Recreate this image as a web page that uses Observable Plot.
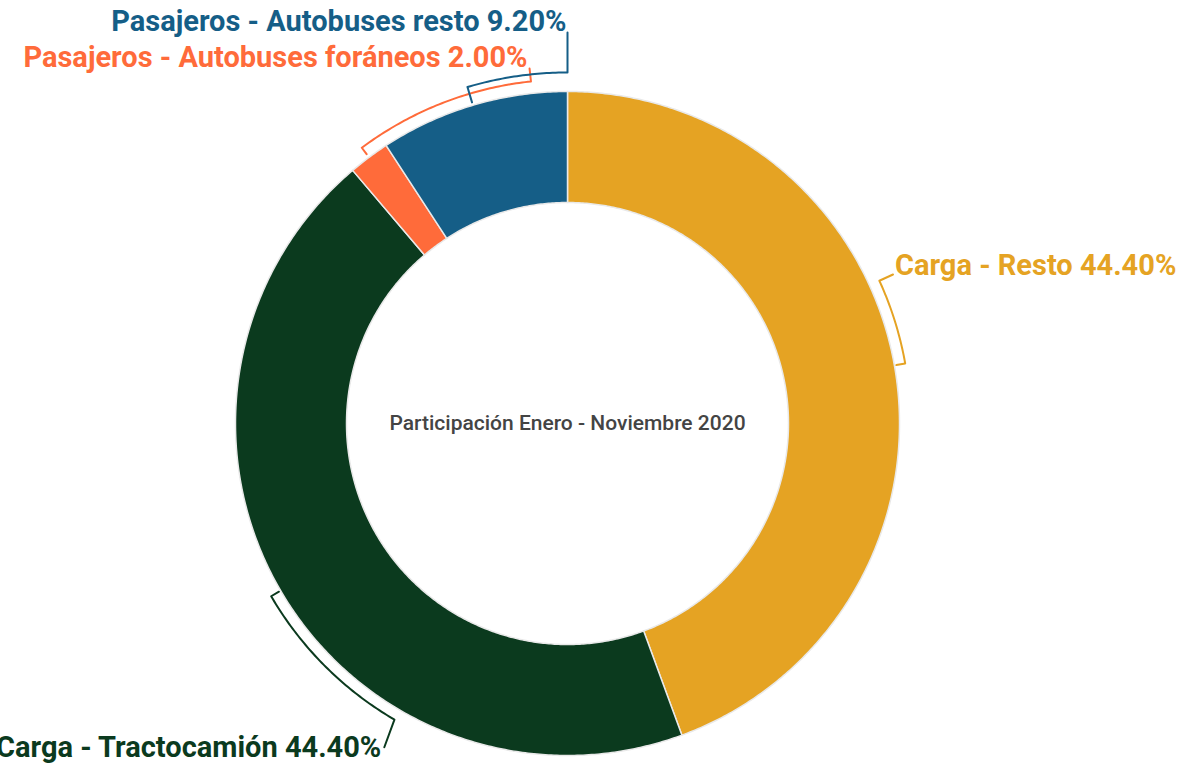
<!DOCTYPE html>
<html><head><meta charset="utf-8">
<script src="https://cdn.jsdelivr.net/npm/d3@7"></script>
<script src="https://cdn.jsdelivr.net/npm/@observablehq/plot@0.6"></script>
<style>body{margin:0;background:#fff;overflow:hidden}</style>
</head><body><div id="chart"></div>
<script>
// ---- data ----
const categories = ["Carga - Resto", "Carga - Tractocamión", "Pasajeros - Autobuses foráneos", "Pasajeros - Autobuses resto"];
const shares = [44.4, 44.4, 2.0, 9.2];
const colors = ["#E5A323", "#0B3A1E", "#FF6B3A", "#155E87"];
const centerTitle = "Participación Enero - Noviembre 2020";

// ---- layout ----
const W = 1184, H = 765, CX = 567, CY = 423, R_OUT = 332, R_IN = 221;
const labelLayout = [
  {arcR: 343, tickR: 334, endDeg: 65.4, tipR: 358, tipDeg: 65.4, anchor: "start", off: [2, 1]},
  {arcR: 343, tickR: 334, endDeg: 210.3, tipR: 372, tipDeg: 209.5, anchor: "end", off: [-3, 10]},
  {arcR: 344, tickR: 336, endDeg: 353.9, tipR: 357, tipDeg: 353.9, anchor: "end", off: [-2, -2]},
  {arcR: 351, tickR: 335, endDeg: 360, tipR: 391, tipDeg: 360, anchor: "end", off: [-1, -2]}
];

const rad = d => d * Math.PI / 180;
const pt = (r, a) => ({x: r * Math.sin(a), y: -r * Math.cos(a)});

const table = categories.map((name, i) => ({name, value: shares[i]}));
const arcs = d3.pie().sort(null).value(d => d.value)(table);

function arcPoints(r, a0, a1) {
  const n = Math.max(2, Math.ceil(Math.abs(a1 - a0) / rad(0.5)));
  const out = [];
  for (let k = 0; k <= n; k++) out.push(pt(r, a0 + (a1 - a0) * k / n));
  return out;
}

const slicePts = arcs.flatMap(a => {
  const outer = arcPoints(R_OUT, a.startAngle, a.endAngle);
  const inner = arcPoints(R_IN, a.endAngle, a.startAngle);
  const poly = [...outer, ...inner, outer[0]];
  return poly.map(p => ({...p, name: a.data.name}));
});

const bracketPts = [];
const labels = [];
arcs.forEach((a, i) => {
  const L = labelLayout[i];
  const mid = (a.startAngle + a.endAngle) / 2;
  const pts = [pt(L.tickR, mid), ...arcPoints(L.arcR, mid, rad(L.endDeg)), pt(L.tipR, rad(L.tipDeg))];
  pts.forEach(p => bracketPts.push({...p, name: a.data.name}));
  const tip = pt(L.tipR, rad(L.tipDeg));
  labels.push({
    name: a.data.name,
    text: `${a.data.name} ${a.data.value.toFixed(2)}%`,
    x: tip.x + L.off[0], y: tip.y + L.off[1], anchor: L.anchor
  });
});

const chart = Plot.plot({
  width: W, height: H, margin: 0,
  style: {fontFamily: "Roboto, sans-serif", background: "#fff"},
  x: {domain: [-CX, W - CX], range: [0, W], axis: null},
  y: {domain: [-CY, H - CY], range: [0, H], axis: null},
  color: {domain: categories, range: colors},
  marks: [
    Plot.line(slicePts, {x: "x", y: "y", z: "name", fill: "name", stroke: "#e9e9e9", strokeWidth: 1.5, curve: "linear"}),
    Plot.line(bracketPts, {x: "x", y: "y", z: "name", stroke: "name", strokeWidth: 2, curve: "linear"}),
    Plot.text(labels.filter(d => d.anchor === "start"), {x: "x", y: "y", text: "text", fill: "name", textAnchor: "start", lineAnchor: "bottom", fontSize: 29, fontWeight: "bold"}),
    Plot.text(labels.filter(d => d.anchor === "end"), {x: "x", y: "y", text: "text", fill: "name", textAnchor: "end", lineAnchor: "bottom", fontSize: 29, fontWeight: "bold"}),
    Plot.text([centerTitle], {x: () => 0, y: () => 0, text: d => d, fill: "#444", fontSize: 21, fontWeight: 500, lineAnchor: "middle"})
  ]
});
document.getElementById("chart").append(chart);
</script>
</body></html>
